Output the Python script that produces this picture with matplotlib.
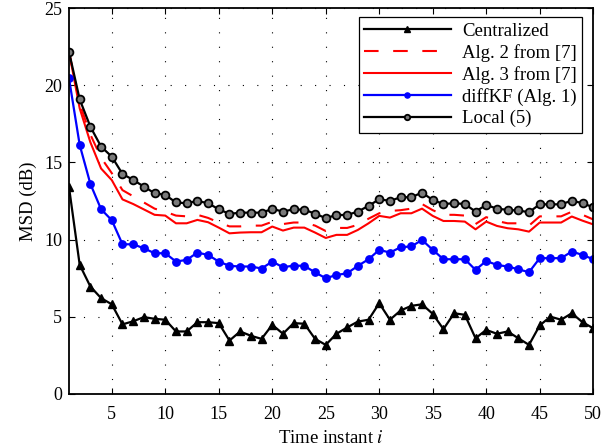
import matplotlib
matplotlib.use("Agg")
import matplotlib.pyplot as plt
import numpy as np

plt.rcParams["font.family"] = ["Liberation Serif", "DejaVu Serif"]
plt.rcParams["mathtext.fontset"] = "stix"
plt.rcParams["font.size"] = 13

time_steps = list(range(1, 51))

centralized = [13.4, 8.36, 6.95, 6.2, 5.8, 4.5, 4.7, 4.97, 4.86, 4.8,
               4.04, 4.04, 4.64, 4.64, 4.58, 3.45, 4.04, 3.76, 3.56, 4.47,
               3.89, 4.58, 4.54, 3.56, 3.17, 3.89, 4.3, 4.68, 4.8, 5.87,
               4.8, 5.4, 5.7, 5.8, 5.18, 4.19, 5.22, 5.12, 3.6, 4.14,
               3.89, 4.04, 3.6, 3.17, 4.43, 5.0, 4.8, 5.22, 4.64, 4.25]

alg2 = [22.17, 18.8, 16.8, 15.3, 14.3, 13.2, 12.8, 12.4, 12.0, 11.8,
        11.55, 11.5, 11.6, 11.4, 11.1, 10.85, 10.85, 10.9, 10.9, 11.15,
        11.0, 11.1, 11.1, 10.9, 10.55, 10.75, 10.75, 10.95, 11.35, 11.7,
        11.85, 11.9, 12.0, 12.3, 11.9, 11.6, 11.6, 11.55, 11.0, 11.45,
        11.2, 11.05, 11.05, 10.9, 11.5, 11.5, 11.5, 11.8, 11.6, 11.3]

alg3 = [22.17, 18.5, 16.3, 14.6, 13.85, 12.6, 12.3, 11.95, 11.6, 11.55,
        11.05, 11.05, 11.27, 11.12, 10.77, 10.4, 10.45, 10.47, 10.47, 10.84,
        10.58, 10.77, 10.77, 10.45, 10.1, 10.3, 10.3, 10.62, 11.05, 11.53,
        11.42, 11.7, 11.7, 12.0, 11.53, 11.2, 11.2, 11.16, 10.66, 11.16,
        10.88, 10.73, 10.66, 10.51, 11.1, 11.1, 11.1, 11.49, 11.22, 10.98]

diffkf = [20.45, 16.13, 13.6, 11.96, 11.25, 9.69, 9.69, 9.43, 9.11, 9.11,
          8.57, 8.68, 9.15, 9.0, 8.57, 8.29, 8.25, 8.25, 8.12, 8.57,
          8.2, 8.31, 8.29, 7.87, 7.49, 7.7, 7.81, 8.29, 8.72, 9.33,
          9.15, 9.5, 9.55, 9.97, 9.33, 8.72, 8.72, 8.72, 8.03, 8.61,
          8.35, 8.25, 8.07, 7.88, 8.79, 8.79, 8.79, 9.22, 9.0, 8.72]

local = [22.17, 19.08, 17.31, 16.02, 15.37, 14.25, 13.86, 13.43, 13.0, 12.89,
         12.4, 12.35, 12.5, 12.35, 11.96, 11.66, 11.74, 11.74, 11.74, 11.98,
         11.81, 11.96, 11.92, 11.68, 11.38, 11.59, 11.59, 11.81, 12.18, 12.61,
         12.5, 12.74, 12.74, 13.04, 12.56, 12.3, 12.35, 12.3, 11.81, 12.24,
         12.0, 11.92, 11.88, 11.77, 12.28, 12.28, 12.28, 12.52, 12.35, 12.09]

fig = plt.figure(figsize=(6.16, 4.48), dpi=100)
ax = fig.add_axes([0.112, 0.121, 0.851, 0.861])

ax.plot(time_steps, centralized, color="black", lw=1.6, marker="^",
        ms=5.5, mfc="black", mec="black", label="Centralized")
ax.plot(time_steps, alg2, color="red", lw=1.5, dashes=(7, 7),
        label="Alg. 2 from [7]")
ax.plot(time_steps, alg3, color="red", lw=1.5, label="Alg. 3 from [7]")
ax.plot(time_steps, diffkf, color="blue", lw=1.6, marker="o", ms=5.3,
        mfc="blue", mec="blue", label="diffKF (Alg. 1)")
ax.plot(time_steps, local, color="black", lw=1.6, marker="o", ms=5.6,
        mfc="#7a7a7a", mec="black", mew=1.3, label="Local (5)")

ax.set_xlim(1, 50)
ax.set_ylim(0, 25)
ax.set_xticks([5, 10, 15, 20, 25, 30, 35, 40, 45, 50])
ax.set_yticks([0, 5, 10, 15, 20, 25])
ax.tick_params(direction="in", top=True, right=True, length=4, width=0.8,
               labelsize=13)
ax.tick_params(axis="x", pad=9)
ax.tick_params(axis="y", pad=5)
ax.grid(True, color="black", linestyle=(0, (1, 12)), linewidth=0.8)
for s in ax.spines.values():
    s.set_linewidth(1.3)

ax.set_xlabel("Time instant $i$", fontsize=13.5, labelpad=5)
ax.set_ylabel("MSD (dB)", fontsize=13.5, labelpad=5)

leg = ax.legend(loc="upper right", bbox_to_anchor=(0.979, 0.977),
                fancybox=False, framealpha=1, edgecolor="black",
                handlelength=4.6, labelspacing=0.22, borderpad=0.3,
                handletextpad=0.6, fontsize=13.5, markerscale=0.7,
                borderaxespad=0)
leg.get_frame().set_linewidth(0.9)

fig.savefig("out.png", dpi=100)
